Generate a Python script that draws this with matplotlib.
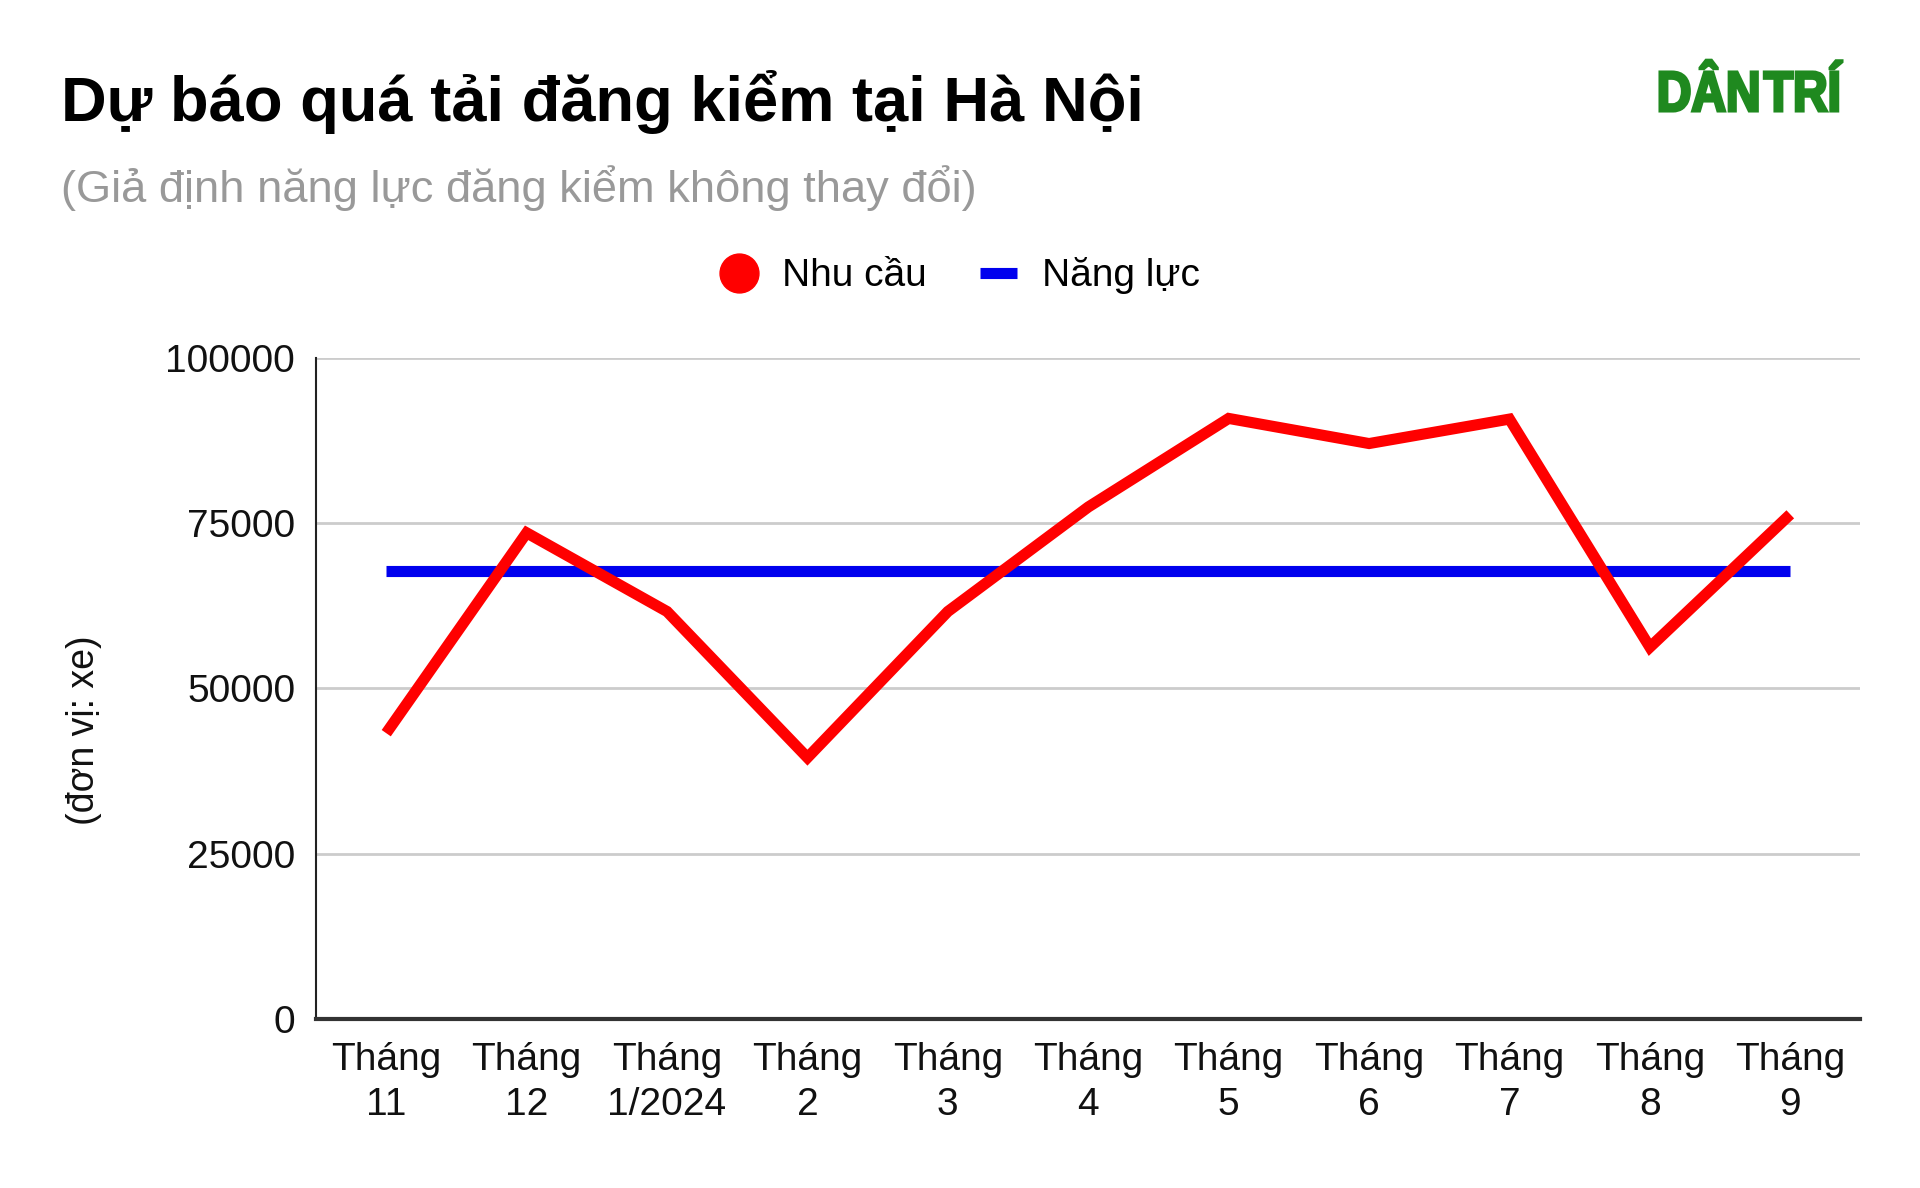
import numpy as np
import matplotlib.pyplot as plt
from matplotlib.lines import Line2D
from matplotlib.textpath import TextPath
from matplotlib.patches import PathPatch
from matplotlib.font_manager import FontProperties
import matplotlib.transforms as mtransforms

# === Data ===
months = ['Tháng\n11', 'Tháng\n12', 'Tháng\n1/2024', 'Tháng\n2', 'Tháng\n3', 'Tháng\n4',
          'Tháng\n5', 'Tháng\n6', 'Tháng\n7', 'Tháng\n8', 'Tháng\n9']
demand = [43200, 73500, 61600, 39500, 61600, 77400, 90800, 87000, 90700, 56200, 76300]
capacity = [67800] * len(months)
yticks = [0, 25000, 50000, 75000, 100000]

plt.rcParams['font.family'] = ['Liberation Sans', 'DejaVu Sans']

fig = plt.figure(figsize=(19.2, 11.88), dpi=100)
ax = fig.add_axes([0.1646, 0.1424, 0.969 - 0.1646, 0.699 - 0.1424])

x = np.arange(len(months))
ax.plot(x, demand, color='#ff0000', lw=8, solid_joinstyle='miter',
        solid_capstyle='butt', zorder=3)
ax.plot(x, capacity, color='#0000ee', lw=8, solid_capstyle='butt', zorder=2)

ax.set_xlim(-0.5, len(months) - 0.5)
ax.set_ylim(0, 100000)
ax.set_yticks(yticks)
ax.set_yticklabels([str(v) for v in yticks])
ax.set_xticks(x)
ax.set_xticklabels(months, linespacing=1.3)
ax.tick_params(axis='both', length=0, labelsize=28, colors='#111111')
ax.tick_params(axis='y', pad=15)
ax.tick_params(axis='x', pad=17)

ax.grid(axis='y', color='#cccccc', lw=2)
ax.set_axisbelow(True)
for s in ['top', 'right']:
    ax.spines[s].set_visible(False)
ax.spines['left'].set_color('#222222')
ax.spines['left'].set_linewidth(1.5)
ax.spines['bottom'].set_color('#333333')
ax.spines['bottom'].set_linewidth(3)
ax.spines['bottom'].set_zorder(4)

fig.text(0.0435, 0.385, '(đơn vị: xe)', rotation=90, fontsize=27,
         ha='center', va='center', color='#111111')

# title + subtitle
fig.text(0.032, 0.898, 'Dự báo quá tải đăng kiểm tại Hà Nội', fontsize=45.5,
         fontweight='bold', color='#000000', ha='left', va='baseline')
fig.text(0.032, 0.830, '(Giả định năng lực đăng kiểm không thay đổi)', fontsize=32.6,
         color='#999999', ha='left', va='baseline')

# logo: heavy bold text squeezed into the logo box (pixels)
fp = FontProperties(family='Liberation Sans', weight='bold')
words = ['DÂN', 'TRÍ']
paths = [TextPath((0, 0), w, size=100, prop=fp) for w in words]
exts = [p.get_extents() for p in paths]
cap_h = TextPath((0, 0), 'DAN', size=100, prop=fp).get_extents().y1
gap = 7
sx = (182 - gap) / sum(e.width for e in exts)
sy = 39 / cap_h
x0 = 1660
for p, e in zip(paths, exts):
    tr = mtransforms.Affine2D().translate(-e.x0, 0).scale(sx, sy).translate(x0, 1188 - 111)
    fig.patches.append(PathPatch(p, transform=tr, facecolor='#1f891f',
                                 edgecolor='#1f891f', lw=2.2))
    x0 += e.width * sx + gap

# legend
handles = [
    Line2D([], [], marker='o', ls='none', color='#ff0000', markersize=28),
    Line2D([], [], color='#0000ee', lw=8, solid_capstyle='butt'),
]
fig.legend(handles, ['Nhu cầu', 'Năng lực'], loc='center', bbox_to_anchor=(0.5, 0.768),
           ncol=2, frameon=False, fontsize=28, handlelength=0.95,
           handletextpad=0.65, columnspacing=1.35)

fig.savefig('out.png', dpi=100, facecolor='white')
